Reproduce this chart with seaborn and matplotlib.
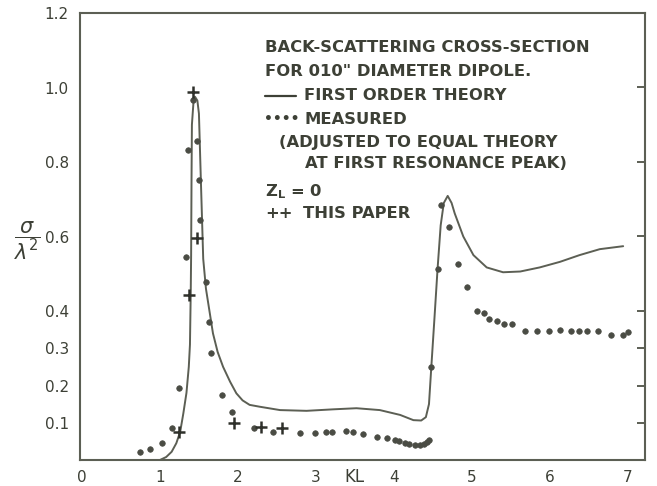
import matplotlib
matplotlib.use("Agg")
import matplotlib.pyplot as plt
from matplotlib.lines import Line2D
import seaborn as sns
import pandas as pd

# First-order theory curve (KL, sigma/lambda^2)
theory_kl = [1.00, 1.08, 1.15, 1.21, 1.26, 1.30, 1.34, 1.37, 1.385, 1.395, 1.40, 1.405, 1.41,
             1.43, 1.45, 1.48, 1.50, 1.525, 1.555, 1.59, 1.62, 1.68, 1.74, 1.81, 1.90, 1.98,
             2.06, 2.15, 2.28, 2.54, 2.88, 3.22, 3.52, 3.82, 4.08, 4.25, 4.35, 4.41, 4.45,
             4.48, 4.52, 4.56, 4.60, 4.64, 4.69, 4.74, 4.78, 4.89, 5.02, 5.19, 5.40, 5.62,
             5.87, 6.13, 6.38, 6.64, 6.94]
theory_sigma = [0.000, 0.008, 0.022, 0.045, 0.076, 0.125, 0.180, 0.25, 0.31, 0.45, 0.55, 0.75, 0.90,
                0.96, 0.975, 0.965, 0.93, 0.75, 0.54, 0.46, 0.42, 0.34, 0.29, 0.25, 0.21, 0.179,
                0.160, 0.148, 0.143, 0.134, 0.132, 0.136, 0.139, 0.134, 0.121, 0.107, 0.106, 0.115, 0.15,
                0.25, 0.38, 0.513, 0.63, 0.69, 0.709, 0.69, 0.662, 0.60, 0.55, 0.517, 0.504, 0.506,
                0.517, 0.532, 0.55, 0.566, 0.574]

# Measured points
measured_kl = [0.74, 0.87, 1.03, 1.15, 1.24, 1.34, 1.355, 1.42, 1.47, 1.495, 1.51, 1.59, 1.63,
               1.65, 1.79, 1.92, 2.20, 2.45, 2.79, 2.99, 3.13, 3.20, 3.38, 3.48, 3.60, 3.78,
               3.91, 4.01, 4.07, 4.14, 4.20, 4.27, 4.33, 4.38, 4.42, 4.45, 4.47, 4.56, 4.61,
               4.71, 4.82, 4.94, 5.07, 5.16, 5.22, 5.32, 5.41, 5.51, 5.68, 5.84, 5.99, 6.13,
               6.27, 6.38, 6.47, 6.62, 6.78, 6.94, 7.00]
measured_sigma = [0.021, 0.029, 0.046, 0.085, 0.194, 0.546, 0.832, 0.966, 0.856, 0.753, 0.644, 0.479, 0.371,
                  0.286, 0.174, 0.130, 0.085, 0.075, 0.073, 0.073, 0.076, 0.076, 0.078, 0.074, 0.071, 0.063,
                  0.058, 0.054, 0.050, 0.045, 0.042, 0.040, 0.040, 0.043, 0.048, 0.054, 0.250, 0.513, 0.685,
                  0.626, 0.525, 0.464, 0.400, 0.394, 0.379, 0.372, 0.364, 0.364, 0.346, 0.346, 0.346, 0.348,
                  0.346, 0.346, 0.346, 0.345, 0.336, 0.336, 0.343]

# Values from this paper
paper_kl = [1.43, 1.48, 1.37, 1.24, 1.95, 2.30, 2.56]
paper_sigma = [0.989, 0.595, 0.443, 0.076, 0.100, 0.089, 0.087]

y_ticks = [0.1, 0.2, 0.3, 0.4, 0.6, 0.8, 1.0, 1.2]
y_tick_labels = ["0.1", "0.2", "0.3", "0.4", "0.6", "0.8", "1.0", "1.2"]
x_ticks = [0, 1, 2, 3, 4, 5, 6, 7]
x_tick_labels = ["0", "1", "2", "3", "4", "5", "6", "7"]

INK = "#3d4036"
LINE = "#5c5f54"
DOT = "#4a4c44"

sns.set_style("white")
plt.rcParams["font.family"] = ["DejaVu Sans"]

W, H = 657, 486
fig = plt.figure(figsize=(W / 100, H / 100), dpi=100)
ax = fig.add_axes([80 / W, 1 - 460 / H, (645 - 80) / W, (460 - 13) / H])

theory = pd.DataFrame({"KL": theory_kl, "sigma": theory_sigma})
measured = pd.DataFrame({"KL": measured_kl, "sigma": measured_sigma})
paper = pd.DataFrame({"KL": paper_kl, "sigma": paper_sigma})

sns.lineplot(data=theory, x="KL", y="sigma", sort=False, estimator=None,
             color=LINE, linewidth=1.4, ax=ax)
sns.scatterplot(data=measured, x="KL", y="sigma", color=DOT, s=16,
                edgecolor=DOT, linewidth=0.5, ax=ax, zorder=3)
sns.scatterplot(data=paper, x="KL", y="sigma", color="#2e302a", marker="+", s=80,
                linewidth=1.8, ax=ax, zorder=4)

ax.set_xlim(-0.025, 7.22)
ax.set_ylim(0, 1.2)
ax.set_xticks(x_ticks)
ax.set_xticklabels(x_tick_labels)
ax.set_yticks(y_ticks)
ax.set_yticklabels(y_tick_labels)
ax.set_xlabel("")
ax.set_ylabel("")
for side in ["left", "bottom", "right", "top"]:
    ax.spines[side].set_color(LINE)
    ax.spines[side].set_linewidth(1.5)
ax.tick_params(axis="both", direction="in", length=6, width=1.4, color=LINE,
               labelcolor=INK, labelsize=11)
ax.tick_params(axis="y", right=True, pad=8)
ax.tick_params(axis="x", pad=7)

# Axis titles
ax.text(3.5, -(477 - 460) / 447, "KL", transform=ax.get_xaxis_transform(), ha="center",
        va="center", fontsize=12, color=INK)
fig.text(27 / W, 1 - 241 / H, r"$\dfrac{\sigma}{\lambda^2}$", ha="center", va="center",
         fontsize=15, color=INK)

# Key block
def label(xp, yp, s, size=11.8):
    fig.text(xp / W, 1 - yp / H, s, ha="left", va="center", fontsize=size,
             color=INK, fontweight="bold")

label(265, 48, "BACK-SCATTERING CROSS-SECTION")
label(265, 71, "FOR 010\" DIAMETER DIPOLE.")
fig.add_artist(Line2D([265 / W, 296 / W], [1 - 96 / H, 1 - 96 / H], color=INK, linewidth=1.6))
label(304, 96, "FIRST ORDER THEORY")
label(264, 119, "\u2022\u2022\u2022\u2022", size=10)
label(304, 119, "MEASURED")
label(279, 142, "(ADJUSTED TO EQUAL THEORY")
label(305, 163, "AT FIRST RESONANCE PEAK)")
label(265, 192, r"Z$_\mathregular{L}$ = 0")
label(265, 214, "++")
label(303, 214, "THIS PAPER")

fig.savefig("out.png", dpi=100, facecolor="white")
